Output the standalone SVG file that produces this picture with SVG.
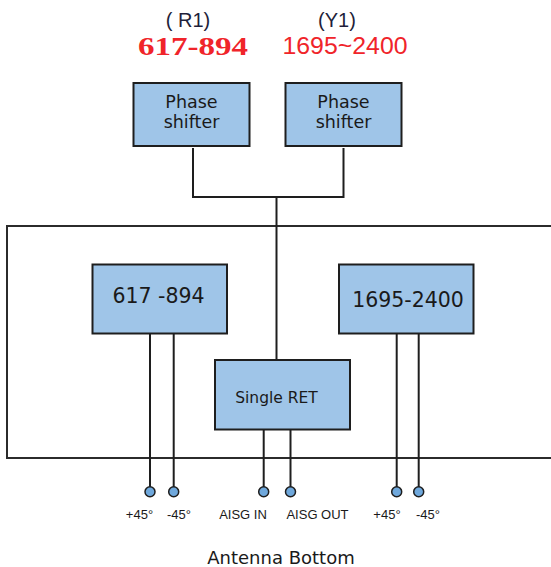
<svg xmlns="http://www.w3.org/2000/svg" width="551" height="567" viewBox="0 0 551 567">
<style>
.box{fill:#9fc5e8;stroke:#1e1e1e;stroke-width:2}
.frame{fill:none;stroke:#2b2b2b;stroke-width:2}
.wire{fill:none;stroke:#1e1e1e;stroke-width:2}
.port{fill:#6fa8dc;stroke:#1e1e1e;stroke-width:1.5}
.t{font-family:"DejaVu Sans",Verdana,sans-serif;fill:#1a1a1a;text-anchor:middle}
.s{font-family:"Liberation Sans",Arial,sans-serif;fill:#1a1a1a;text-anchor:middle;font-size:13px}
.red{fill:#f0242a;text-anchor:middle}
.hdr{font-family:"Liberation Sans",Arial,sans-serif;fill:#1f1f3a;text-anchor:middle;font-size:20px}
</style>
<rect width="551" height="567" fill="#ffffff"/>
<g id="frame"><rect class="frame" x="7" y="226" width="560" height="232"/></g>
<g id="labels-top">
<text class="hdr" x="188" y="27">( R1)</text>
<text class="hdr" x="337" y="27">(Y1)</text>
<text class="red" x="193" y="55" font-family="'Liberation Serif','Times New Roman',serif" font-size="25px" font-weight="bold" textLength="110" lengthAdjust="spacingAndGlyphs">617-894</text>
<text class="red" x="345" y="54" font-family="'Liberation Sans',Arial,sans-serif" font-size="24px" textLength="125" lengthAdjust="spacingAndGlyphs">1695~2400</text>
</g>
<g id="connectors">
<polyline class="wire" points="193,148 193,197 343.5,197 343.5,148"/>
<line class="wire" x1="276.5" y1="197" x2="276.5" y2="360"/>
<line class="wire" x1="150" y1="334" x2="150" y2="487"/>
<line class="wire" x1="173.7" y1="334" x2="173.7" y2="487"/>
<line class="wire" x1="263.7" y1="430" x2="263.7" y2="487"/>
<line class="wire" x1="290.5" y1="430" x2="290.5" y2="487"/>
<line class="wire" x1="396.7" y1="334" x2="396.7" y2="487"/>
<line class="wire" x1="418.7" y1="334" x2="418.7" y2="487"/>
</g>
<g id="phase-shifter-r1">
<rect class="box" x="133.5" y="83" width="116" height="63"/>
<text class="t" x="191.5" y="108" font-size="17.5px">Phase</text>
<text class="t" x="191.5" y="128" font-size="17.5px">shifter</text>
</g>
<g id="phase-shifter-y1">
<rect class="box" x="285.5" y="83" width="116" height="63"/>
<text class="t" x="343.5" y="108" font-size="17.5px">Phase</text>
<text class="t" x="343.5" y="128" font-size="17.5px">shifter</text>
</g>
<g id="band-617-894">
<rect class="box" x="92.5" y="264.5" width="134.5" height="69"/>
<text class="t" x="158.5" y="303" font-size="20.5px">617 -894</text>
</g>
<g id="band-1695-2400">
<rect class="box" x="339" y="264.5" width="134.5" height="69"/>
<text class="t" x="408" y="307" font-size="20.5px">1695-2400</text>
</g>
<g id="single-ret">
<rect class="box" x="215" y="360" width="135" height="69.5"/>
<text class="t" x="276.5" y="403" font-size="15.5px">Single RET</text>
</g>
<g id="ports">
<circle class="port" cx="150" cy="491.7" r="5"/>
<circle class="port" cx="173.7" cy="491.7" r="5"/>
<circle class="port" cx="263.7" cy="491.7" r="5"/>
<circle class="port" cx="290.5" cy="491.7" r="5"/>
<circle class="port" cx="396.7" cy="491.7" r="5"/>
<circle class="port" cx="418.7" cy="491.7" r="5"/>
<text class="s" x="139.5" y="519">+45°</text>
<text class="s" x="179" y="519">-45°</text>
<text class="s" x="243" y="519">AISG IN</text>
<text class="s" x="317.5" y="519">AISG OUT</text>
<text class="s" x="387" y="519">+45°</text>
<text class="s" x="428" y="519">-45°</text>
</g>
<g id="caption">
<text class="t" x="281" y="564" font-size="18px">Antenna Bottom</text>
</g>
</svg>
